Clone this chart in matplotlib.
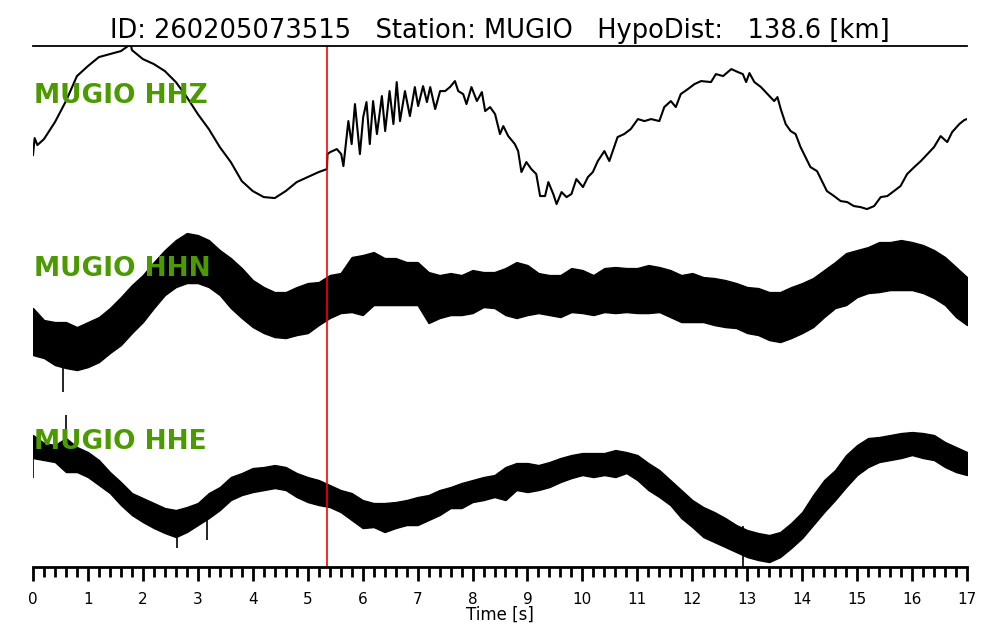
import matplotlib
matplotlib.use("Agg")
import matplotlib.pyplot as plt
from matplotlib.ticker import MultipleLocator

# ---------------- data (amplitudes relative to each trace baseline) ----------------
title_text = "ID: 260205073515   Station: MUGIO   HypoDist:   138.6 [km]"
channels = ["MUGIO HHZ", "MUGIO HHN", "MUGIO HHE"]
offsets = [0, -173, -346]
p_pick = 5.35

hhz_t = [0.00, 0.03, 0.08, 0.2, 0.4, 0.6, 0.8, 1.0, 1.2, 1.4, 1.6, 1.78, 1.8, 2.0, 2.2, 2.4,
         2.6, 2.8, 3.0, 3.2, 3.4, 3.6, 3.8, 4.0, 4.2, 4.4, 4.6, 4.8, 5.0, 5.2, 5.35,
         5.36, 5.41, 5.53, 5.61, 5.65, 5.74, 5.80, 5.86, 5.95, 6.01, 6.07, 6.13, 6.19,
         6.26, 6.35, 6.41, 6.49, 6.56, 6.62, 6.68, 6.77, 6.86, 6.95, 7.01, 7.10, 7.17,
         7.23, 7.32, 7.41, 7.50, 7.59, 7.68, 7.74, 7.83, 7.89, 7.98, 8.08, 8.17, 8.23,
         8.32, 8.41, 8.50, 8.56, 8.65, 8.77, 8.83, 8.89, 8.98, 9.07, 9.16, 9.23, 9.32,
         9.38, 9.47, 9.53, 9.62, 9.71, 9.80, 9.89, 10.01, 10.10, 10.19, 10.28, 10.40,
         10.49, 10.64, 10.76, 10.88, 11.01, 11.13, 11.25, 11.40, 11.49, 11.61, 11.70,
         11.79, 11.92, 12.04, 12.16, 12.34, 12.43, 12.56, 12.71, 12.83, 12.92, 12.98,
         13.04, 13.13, 13.25, 13.37, 13.49, 13.55, 13.61, 13.70, 13.79, 13.88, 13.97,
         14.06, 14.15, 14.27, 14.36, 14.45, 14.58, 14.70, 14.82, 14.94, 15.06, 15.18,
         15.31, 15.43, 15.55, 15.67, 15.79, 15.91, 16.04, 16.16, 16.28, 16.40, 16.52,
         16.64, 16.73, 16.86, 16.95, 17.00]
hhz_v = [-25, -8, -15, -9, 8, 29, 54, 64, 73, 76, 79, 86, 80, 71, 66, 59,
         48, 33, 16, 1, -17, -32, -51, -61, -67, -68, -61, -52, -47, -42, -39,
         -24, -22, -19, -24, -36, 9, -14, 26, -24, 13, 28, -14, 29,
         -4, 34, -1, 39, 6, 48, 9, 39, 14, 43, 24, 44, 28,
         43, 21, 39, 39, 43, 49, 39, 36, 26, 43, 29, 38, 19,
         23, 16, -4, 4, -6, -14, -21, -42, -32, -39, -44, -66, -66,
         -52, -64, -74, -62, -67, -64, -49, -57, -47, -42, -31, -21,
         -31, -7, -4, 1, 11, 9, 11, 9, 23, 29, 23,
         36, 41, 46, 49, 48, 56, 54, 61, 58, 56, 48,
         57, 48, 43, 36, 29, 33, 21, 6, -1, -4, -17,
         -27, -37, -41, -51, -61, -66, -71, -72, -76, -77, -79,
         -76, -67, -66, -61, -56, -44, -37, -31, -24, -17, -6,
         -12, -2, 6, 10, 11]

env_t = [round(0.2 * i, 1) for i in range(86)]  # 0.0 ... 17.0 s, 0.2 s steps

hhn_up = [-5, -17, -19, -19, -24, -19, -14, -5, 6, 18, 28, 41, 53, 63, 70, 68, 63, 53,
          45, 35, 23, 16, 11, 11, 16, 20, 21, 28, 30, 46, 48, 51, 45, 45, 41, 41,
          31, 28, 30, 28, 33, 31, 31, 35, 41, 38, 30, 28, 28, 35, 33, 28, 35, 36,
          35, 35, 38, 36, 33, 28, 30, 26, 25, 23, 20, 16, 15, 11, 11, 16, 20, 25,
          33, 41, 50, 53, 56, 61, 61, 63, 61, 58, 53, 46, 36, 26]
hhn_lo = [-52, -55, -62, -65, -67, -64, -59, -50, -42, -30, -19, -5, 8, 16, 20, 20, 16, 8,
          -5, -15, -24, -30, -34, -35, -32, -30, -22, -15, -10, -9, -12, -2, -2, -2, -2, -2,
          -20, -15, -12, -12, -10, -4, -5, -12, -15, -12, -10, -12, -14, -9, -10, -12, -9, -10,
          -9, -10, -10, -9, -14, -19, -19, -19, -22, -24, -25, -30, -32, -37, -39, -35, -30, -24,
          -14, -5, -2, 6, 10, 11, 13, 13, 13, 10, 5, -2, -14, -22]

hhe_up = [41, 33, 31, 38, 29, 24, 16, 4, -6, -17, -22, -27, -32, -34, -31, -27, -17, -11,
          -1, 3, 8, 9, 11, 9, 3, -1, -4, -9, -14, -17, -24, -27, -27, -26, -24, -21,
          -19, -14, -11, -7, -4, -1, 1, 9, 13, 13, 11, 14, 18, 21, 23, 23, 23, 26,
          24, 21, 13, 6, -4, -14, -24, -31, -36, -42, -49, -54, -57, -59, -56, -47, -36, -19,
          -4, 6, 21, 31, 38, 39, 41, 43, 44, 43, 41, 34, 29, 24]
hhe_lo = [18, 16, 14, 4, 4, -1, -9, -17, -29, -39, -46, -52, -57, -61, -56, -49, -42, -34,
          -24, -19, -16, -14, -12, -14, -21, -26, -29, -31, -36, -44, -52, -51, -56, -52, -49, -49,
          -44, -39, -32, -32, -26, -24, -21, -24, -14, -16, -14, -11, -6, -2, 1, -1, 1, -1,
          3, -4, -14, -21, -29, -42, -51, -61, -66, -71, -76, -81, -84, -86, -81, -72, -62, -49,
          -36, -24, -11, 1, 9, 14, 16, 18, 21, 18, 16, 9, 4, 1]

# isolated spikes: (time, channel index, low, high)
spike_t = [0.55, 0.00, 0.60, 2.62, 3.16, 12.93]
spike_ch = [1, 2, 2, 2, 2, 2]
spike_lo = [-89, -2, 20, -72, -64, -91]
spike_hi = [-40, 30, 61, -40, -30, -50]

# ---------------- figure ----------------
fig = plt.figure(figsize=(10, 6.4), dpi=100)
ax = fig.add_axes([0.033, 0.114, 0.934, 0.814])

ax.plot(hhz_t, [v + offsets[0] for v in hhz_v], color="black", lw=1.5)
ax.fill_between(env_t, [v + offsets[1] for v in hhn_lo], [v + offsets[1] for v in hhn_up],
                color="black", lw=1.0, edgecolor="black")
ax.fill_between(env_t, [v + offsets[2] for v in hhe_lo], [v + offsets[2] for v in hhe_up],
                color="black", lw=1.0, edgecolor="black")
for t, c, lo, hi in zip(spike_t, spike_ch, spike_lo, spike_hi):
    ax.vlines(t, lo + offsets[c], hi + offsets[c], color="black", lw=1.2)

ax.axvline(p_pick, color="red", lw=1.2)

for name, off in zip(channels, offsets):
    ax.text(0.02, off + 27, name, color="#4a9a00", fontsize=19, fontweight="bold",
            ha="left", va="baseline")

ax.set_xlim(0, 17)
ax.set_ylim(-437, 84)
ax.set_title(title_text, fontsize=18.5, pad=6)

for s in ["left", "right"]:
    ax.spines[s].set_visible(False)
ax.spines["top"].set_linewidth(1.3)
ax.spines["bottom"].set_linewidth(2.0)
ax.set_yticks([])
ax.xaxis.set_major_locator(MultipleLocator(1))
ax.xaxis.set_minor_locator(MultipleLocator(0.2))
ax.tick_params(axis="x", which="major", length=10, width=2, labelsize=11, pad=8)
ax.tick_params(axis="x", which="minor", length=7, width=2)
ax.set_xlabel("Time [s]", fontsize=12, labelpad=-1)

fig.savefig("out.png", dpi=100)
